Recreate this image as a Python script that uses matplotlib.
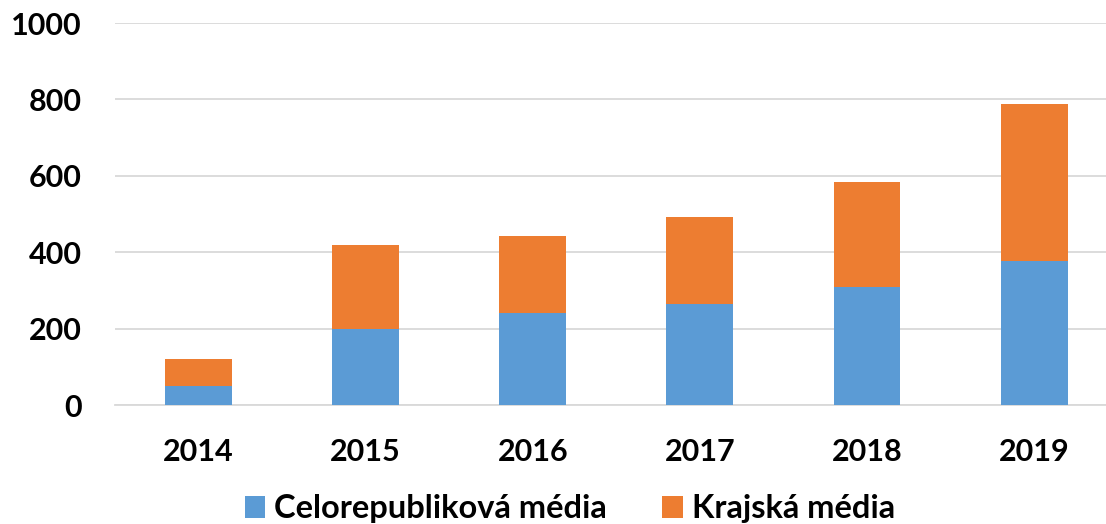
import numpy as np
import matplotlib.pyplot as plt

years = ["2014", "2015", "2016", "2017", "2018", "2019"]
celorepublikova = [50, 200, 240, 264, 310, 377]
krajska_total = [120, 420, 443, 493, 583, 788]
krajska = [t - c for t, c in zip(krajska_total, celorepublikova)]

plt.rcParams['font.family'] = ['Lato', 'DejaVu Sans']
plt.rcParams['font.weight'] = 'bold'

fig = plt.figure(figsize=(11.06, 5.24), dpi=100)
ax = fig.add_axes([0.104, 0.227, 0.896, 0.729])

x = np.arange(len(years))
ax.bar(x, celorepublikova, width=0.4, color='#5B9BD5', label='Celorepubliková média', zorder=3)
ax.bar(x, krajska, width=0.4, bottom=celorepublikova, color='#ED7D31', label='Krajská média', zorder=3)

ax.set_ylim(0, 1000)
ax.set_xlim(-0.5, 5.43)
ax.set_yticks(range(0, 1001, 200))
ax.set_xticks(x)
ax.set_xticklabels(years)
ax.tick_params(axis='both', length=0, labelsize=22, colors='black')
ax.tick_params(axis='y', pad=24)
ax.tick_params(axis='x', pad=24)
for lbl in ax.get_xticklabels() + ax.get_yticklabels():
    lbl.set_fontweight('bold')

ax.grid(axis='y', color='#D9D9D9', linewidth=1.3, zorder=0)
for s in ['top', 'right', 'left']:
    ax.spines[s].set_visible(False)
ax.spines['bottom'].set_color('#D9D9D9')
ax.spines['bottom'].set_linewidth(1.3)

leg = ax.legend(loc='center', bbox_to_anchor=(0.459, -0.272), ncol=2, frameon=False,
                handlelength=0.62, handleheight=0.62, handletextpad=0.28,
                columnspacing=1.7, prop={'weight': 'bold', 'size': 23.5})

fig.savefig('out.png', dpi=100)
